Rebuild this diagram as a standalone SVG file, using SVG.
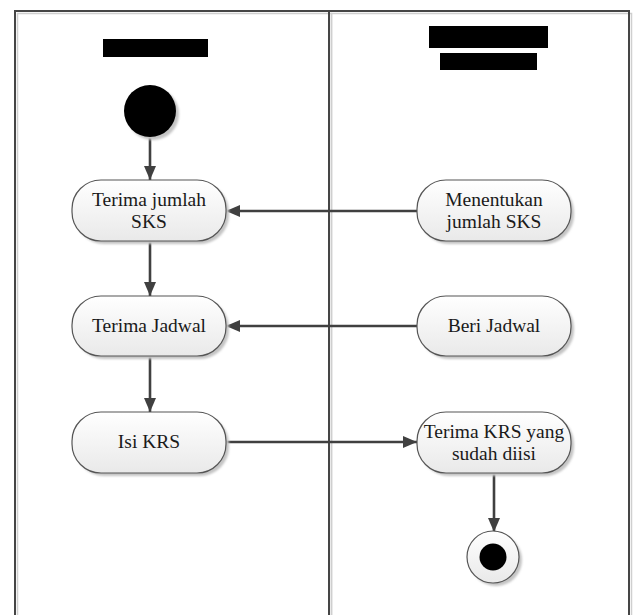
<svg xmlns="http://www.w3.org/2000/svg" width="633" height="615" viewBox="0 0 633 615">
  <defs>
    <linearGradient id="nodeFill" x1="0" y1="0" x2="0" y2="1">
      <stop offset="0" stop-color="#ffffff"/>
      <stop offset="1" stop-color="#e9e9e9"/>
    </linearGradient>
    <filter id="soft" x="-20%" y="-20%" width="140%" height="140%">
      <feGaussianBlur stdDeviation="1"/>
    </filter>
    <marker id="arrow" viewBox="0 0 14 12" refX="14" refY="6" markerWidth="14" markerHeight="12" markerUnits="userSpaceOnUse" orient="auto">
      <path d="M0,0 L14,6 L0,12 Z" fill="#404040"/>
    </marker>
  </defs>
  <style>
    .lane { fill: none; stroke: #454545; stroke-width: 2; }
    .lane-shadow { fill: none; stroke: #cfcfcf; stroke-width: 1.5; }
    .node { fill: url(#nodeFill); stroke: #555555; stroke-width: 1.2; }
    .shadow { fill: #c4c4c4; filter: url(#soft); }
    .label { font-family: "Liberation Serif", "Times New Roman", serif; font-size: 19.5px; fill: #1a1a1a; text-anchor: middle; }
    .flow { fill: none; stroke: #404040; stroke-width: 2.6; marker-end: url(#arrow); }
    .redact { fill: #000000; }
  </style>

  <rect width="633" height="615" fill="#ffffff"/>

  <!-- swimlanes -->
  <g id="lanes">
    <rect class="lane-shadow" x="17.5" y="13.5" width="314" height="640"/>
    <rect class="lane-shadow" x="331.5" y="13.5" width="300" height="640"/>
    <rect class="lane" x="15" y="11" width="314" height="640"/>
    <rect class="lane" x="329" y="11" width="300" height="640"/>
  </g>

  <!-- lane headers (blacked out) -->
  <g id="lane-headers">
    <rect class="redact" x="103" y="39" width="105" height="18"/>
    <rect class="redact" x="429" y="26" width="119" height="22"/>
    <rect class="redact" x="440" y="53" width="97" height="17"/>
  </g>

  <!-- connectors -->
  <g id="connectors">
    <line class="flow" x1="150" y1="137" x2="150" y2="180"/>
    <line class="flow" x1="150" y1="241" x2="150" y2="296"/>
    <line class="flow" x1="150" y1="356" x2="150" y2="412"/>
    <line class="flow" x1="417" y1="211" x2="226" y2="211"/>
    <line class="flow" x1="417" y1="326" x2="226" y2="326"/>
    <line class="flow" x1="226" y1="442" x2="417" y2="442"/>
    <line class="flow" x1="494" y1="473" x2="494" y2="532"/>
  </g>

  <!-- start -->
  <g id="start">
    <circle class="shadow" cx="153" cy="114" r="26"/>
    <circle cx="150" cy="111" r="26" fill="#000000"/>
  </g>

  <!-- student lane activities -->
  <g id="terima-jumlah-sks">
    <rect class="shadow" x="75" y="183" width="154" height="61" rx="29"/>
    <rect class="node" x="72" y="180" width="154" height="61" rx="29"/>
    <text class="label" x="149" y="206">Terima jumlah</text>
    <text class="label" x="149" y="228">SKS</text>
  </g>
  <g id="terima-jadwal">
    <rect class="shadow" x="75" y="299" width="154" height="60" rx="29"/>
    <rect class="node" x="72" y="296" width="154" height="60" rx="29"/>
    <text class="label" x="149" y="332">Terima Jadwal</text>
  </g>
  <g id="isi-krs">
    <rect class="shadow" x="75" y="415" width="154" height="61" rx="29"/>
    <rect class="node" x="72" y="412" width="154" height="61" rx="29"/>
    <text class="label" x="149" y="448">Isi KRS</text>
  </g>

  <!-- second lane activities -->
  <g id="menentukan-jumlah-sks">
    <rect class="shadow" x="420" y="183" width="154" height="61" rx="29"/>
    <rect class="node" x="417" y="180" width="154" height="61" rx="29"/>
    <text class="label" x="494" y="206">Menentukan</text>
    <text class="label" x="494" y="228">jumlah SKS</text>
  </g>
  <g id="beri-jadwal">
    <rect class="shadow" x="420" y="299" width="154" height="60" rx="29"/>
    <rect class="node" x="417" y="296" width="154" height="60" rx="29"/>
    <text class="label" x="494" y="332">Beri Jadwal</text>
  </g>
  <g id="terima-krs">
    <rect class="shadow" x="420" y="415" width="154" height="61" rx="29"/>
    <rect class="node" x="417" y="412" width="154" height="61" rx="29"/>
    <text class="label" x="494" y="438">Terima KRS yang</text>
    <text class="label" x="494" y="460">sudah diisi</text>
  </g>

  <!-- end -->
  <g id="end">
    <circle class="shadow" cx="496" cy="560" r="26"/>
    <circle class="node" cx="493" cy="557" r="26"/>
    <circle cx="493" cy="557" r="13.5" fill="#000000"/>
  </g>
</svg>
